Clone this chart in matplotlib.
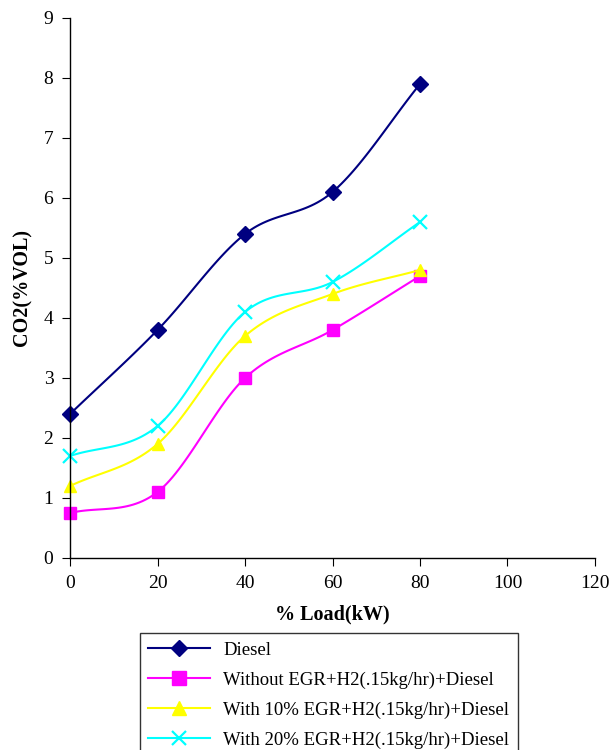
import numpy as np
import matplotlib
matplotlib.use("Agg")
import matplotlib.pyplot as plt

plt.rcParams['font.family'] = ['Liberation Serif', 'DejaVu Serif']

load = [0, 20, 40, 60, 80]
diesel = [2.4, 3.8, 5.4, 6.1, 7.9]
without_egr = [0.75, 1.1, 3.0, 3.8, 4.7]
egr10 = [1.2, 1.9, 3.7, 4.4, 4.8]
egr20 = [1.7, 2.2, 4.1, 4.6, 5.6]

labels = ["Diesel",
          "Without EGR+H2(.15kg/hr)+Diesel",
          "With 10% EGR+H2(.15kg/hr)+Diesel",
          "With 20% EGR+H2(.15kg/hr)+Diesel"]
colors = ["#000080", "#FF00FF", "#FFFF00", "#00FFFF"]
markers = ["D", "s", "^", "x"]


def smooth(x, y, n=30):
    # Catmull-Rom style smoothing (like spreadsheet "smoothed line")
    x = np.asarray(x, float); y = np.asarray(y, float)
    P = np.column_stack([x, y])
    P = np.vstack([2 * P[0] - P[1], P, 2 * P[-1] - P[-2]])
    out = []
    t = np.linspace(0, 1, n)
    for i in range(1, len(P) - 2):
        p0, p1, p2, p3 = P[i - 1], P[i], P[i + 1], P[i + 2]
        c1 = p1 + (p2 - p0) / 6.0
        c2 = p2 - (p3 - p1) / 6.0
        seg = ((1 - t) ** 3)[:, None] * p1 + (3 * (1 - t) ** 2 * t)[:, None] * c1 \
            + (3 * (1 - t) * t ** 2)[:, None] * c2 + (t ** 3)[:, None] * p2
        out.append(seg if i == 1 else seg[1:])
    s = np.vstack(out)
    return s[:, 0], s[:, 1]


fig = plt.figure(figsize=(6.1, 7.5), dpi=100)
ax = fig.add_axes([0.1148, 0.256, 0.8606, 0.72])

handles = []
for ys, c, m, lab in zip([diesel, without_egr, egr10, egr20], colors, markers, labels):
    sx, sy = smooth(load, ys)
    ax.plot(sx, sy, color=c, lw=1.5)
    if m == "x":
        ax.plot(load, ys, ls="none", marker=m, color=c, ms=10, mew=1.6)
    else:
        ax.plot(load, ys, ls="none", marker=m, color=c, ms=9 if m != "D" else 8)
    h, = ax.plot([], [], color=c, lw=1.5, marker=m, ms=10 if m != "D" else 8,
                 mew=1.6 if m == "x" else 1)
    handles.append(h)

ax.set_xlim(0, 120)
ax.set_ylim(0, 9)
ax.set_xticks(range(0, 121, 20))
ax.set_yticks(range(0, 10))
ax.spines['top'].set_visible(False)
ax.spines['right'].set_visible(False)
ax.tick_params(direction='out', length=6, labelsize=14, pad=6)
for sp in ['left', 'bottom']:
    ax.spines[sp].set_linewidth(1.0)
for ln in ax.lines:
    ln.set_clip_on(False)

ax.set_xlabel("% Load(kW)", fontsize=14.5, fontweight='bold', labelpad=9)
ax.set_ylabel("CO2(%VOL)", fontsize=14.5, fontweight='bold', labelpad=8)

leg = fig.legend(handles=handles, labels=labels, loc='upper left',
                 bbox_to_anchor=(0.2295, 0.156), fontsize=13.5, frameon=True,
                 fancybox=False, edgecolor='black', handlelength=3.3,
                 borderpad=0.45, labelspacing=0.68, handletextpad=0.7,
                 borderaxespad=0.0)
leg.get_frame().set_linewidth(1.0)

fig.savefig("out.png", dpi=100)
